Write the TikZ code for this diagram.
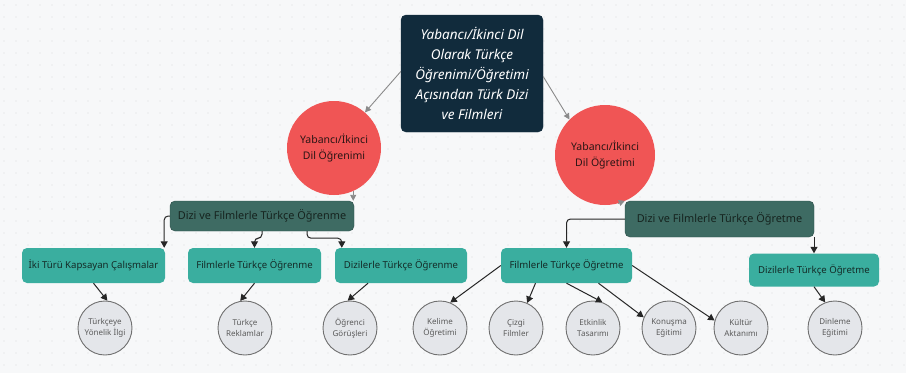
\documentclass[tikz,border=0pt]{standalone}
\usepackage{fontspec}
\setmainfont{Noto Sans}
\usetikzlibrary{arrows.meta,calc}
\definecolor{bgc}{HTML}{F7F8F9}
\definecolor{dotc}{HTML}{D9DCDF}
\definecolor{navy}{HTML}{112B3C}
\definecolor{redc}{HTML}{F05555}
\definecolor{redt}{HTML}{2A1515}
\definecolor{dteal}{HTML}{3E6B63}
\definecolor{dtealb}{HTML}{2C4D47}
\definecolor{dtealt}{HTML}{16241F}
\definecolor{teal}{HTML}{3AAE9F}
\definecolor{tealt}{HTML}{142B27}
\definecolor{gfill}{HTML}{E4E6EA}
\definecolor{gline}{HTML}{707070}
\definecolor{gtext}{HTML}{5A5A5A}
\definecolor{garr}{HTML}{8A8A8A}
\tikzset{
  rootbox/.style={draw=navy,fill=navy,rounded corners=5pt,minimum width=142pt,minimum height=117pt,inner sep=0pt,align=center,text=white,font=\fontsize{13.5}{20}\selectfont\itshape},
  redcirc/.style={circle,fill=redc,minimum size=#1,inner sep=0pt,align=center,text=redt,font=\fontsize{10.5}{16}\selectfont},
  darkbox/.style={draw=dtealb,fill=dteal,rounded corners=5pt,inner sep=0pt,align=center,text=dtealt,font=\fontsize{10.9}{12}\selectfont},
  tealbox/.style={fill=teal,rounded corners=5pt,inner sep=0pt,align=center,text=tealt,font=\fontsize{9.6}{11}\selectfont},
  smallcirc/.style={circle,draw=gline,line width=0.9pt,fill=gfill,minimum size=54pt,inner sep=0pt,align=center,text=gtext,font=\fontsize{8}{11}\selectfont},
  garrow/.style={draw=garr,line width=0.9pt,-{Triangle[length=6pt,width=6pt]}},
  barrow/.style={draw=black!85,line width=1pt,rounded corners=4pt,-{Triangle[length=6.5pt,width=7pt]}}
}
\begin{document}
\begin{tikzpicture}[x=1pt,y=1pt]
\fill[bgc] (0,0) rectangle (906,-373);
\useasboundingbox (0,0) rectangle (906,-373);
\foreach \i in {0,...,75}{\foreach \j in {0,...,30}{\fill[dotc] (4+12*\i,-5-12*\j) circle (0.7);}}

% nodes
\node[rootbox] (root) at (472,-73.5) {Yabancı/İkinci Dil\\Olarak Türkçe\\Öğrenimi/Öğretimi\\Açısından Türk Dizi\\ve Filmleri};
\node[redcirc=94pt] (lc) at (334,-148) {Yabancı/İkinci\\Dil Öğrenimi};
\node[redcirc=100pt] (rc) at (605,-155) {Yabancı/İkinci\\Dil Öğretimi};
\node[darkbox,minimum width=184pt,minimum height=30pt] (ob1) at (262,-216) {Dizi ve Filmlerle Türkçe Öğrenme};
\node[darkbox,minimum width=189pt,minimum height=36pt] (ob2) at (719.5,-219) {Dizi ve Filmlerle Türkçe Öğretme};

\node[tealbox,minimum width=143pt,minimum height=35pt] (t1) at (93.5,-265.5) {İki Türü Kapsayan Çalışmalar};
\node[tealbox,minimum width=133pt,minimum height=35pt] (t2) at (254.5,-265.5) {Filmlerle Türkçe Öğrenme};
\node[tealbox,minimum width=132pt,minimum height=35pt] (t3) at (401,-265.5) {Dizilerle Türkçe Öğrenme};
\node[tealbox,minimum width=131pt,minimum height=35pt] (t4) at (566.5,-265.5) {Filmlerle Türkçe Öğretme};
\node[tealbox,minimum width=130pt,minimum height=33pt] (t5) at (814,-270) {Dizilerle Türkçe Öğretme};

\node[smallcirc] (c1) at (105,-328) {Türkçeye\\Yönelik İlgi};
\node[smallcirc] (c2) at (245,-328) {Türkçe\\Reklamlar};
\node[smallcirc] (c3) at (350,-328) {Öğrenci\\Görüşleri};
\node[smallcirc] (c4) at (440,-328) {Kelime\\Öğretimi};
\node[smallcirc] (c5) at (516,-328) {Çizgi\\Filmler};
\node[smallcirc] (c6) at (593,-328) {Etkinlik\\Tasarımı};
\node[smallcirc] (c7) at (669,-328) {Konuşma\\Eğitimi};
\node[smallcirc] (c8) at (741,-328) {Kültür\\Aktanımı};
\node[smallcirc] (c9) at (835,-328) {Dinleme\\Eğitimi};

% gray connectors
\draw[garrow] ([yshift=2pt]root.west) -- (lc.49);
\draw[garrow] ([yshift=-3pt]root.east) -- (rc.135);
\draw[garrow] (lc.-66) -- (lc.-66 |- ob1.north);
\draw[garrow] (rc.-75) -- (ob2.north west);

% black elbow connectors
\draw[barrow] (ob1.west) -| ([xshift=-1pt]t1.north east);
\draw[barrow] (ob1.south) -- ++(0,-7) -| (t2.north);
\draw[barrow] ([xshift=45pt]ob1.south) -- ++(0,-7) -| ([xshift=7pt]t3.north west);
\draw[barrow] (ob2.west) -| (t4.north);
\draw[barrow] (t5.north |- ob2.south) -- (t5.north);

% box to circle connectors
\draw[barrow] (t1.south) -- (c1.85);
\draw[barrow] (t2.south) -- (c2.100);
\draw[barrow] ([xshift=-33pt]t3.south) -- (c3.95);
\draw[barrow] (t4.west) -- (c4.68);
\draw[barrow] ([xshift=-31pt]t4.south) -- (c5.66);
\draw[barrow] (t4.south) -- (c6.70);
\draw[barrow] ([xshift=32pt]t4.south) -- (c7.157);
\draw[barrow] (t4.east) -- (c8.164);
\draw[barrow] (t5.south) -- (c9.111);
\end{tikzpicture}
\end{document}
